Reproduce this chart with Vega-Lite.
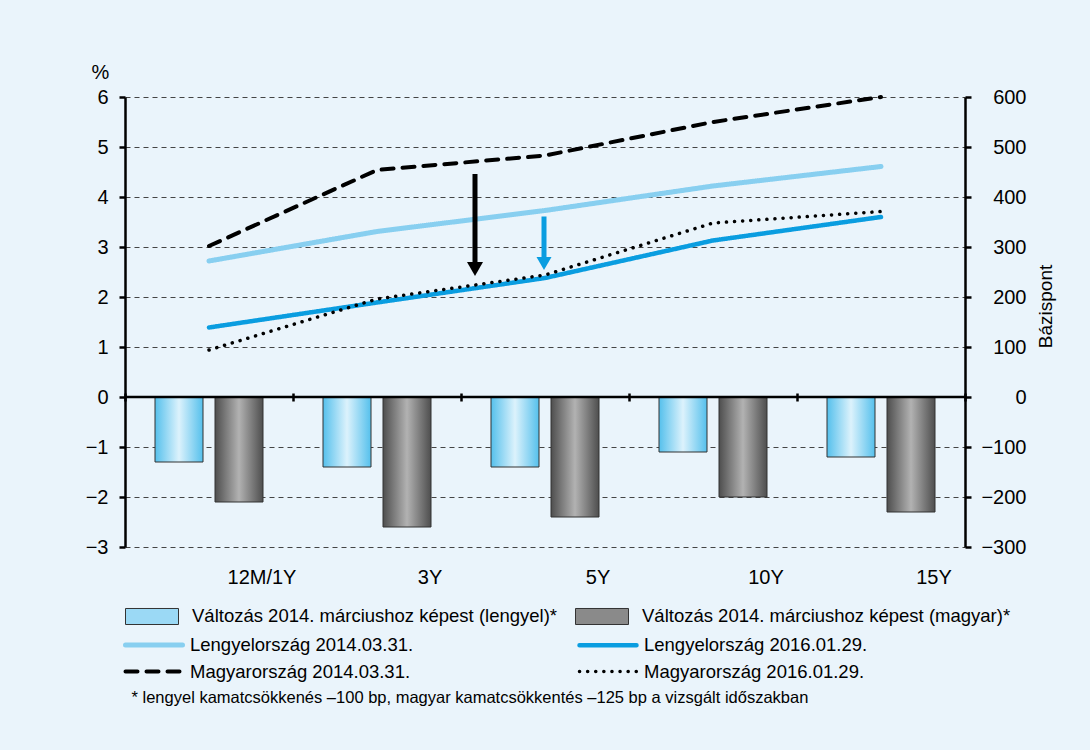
{
  "$schema": "https://vega.github.io/schema/vega-lite/v6.json",
  "width": 840,
  "height": 450,
  "autosize": {"type": "none"},
  "padding": {"left": 125, "top": 97, "right": 125, "bottom": 203},
  "background": "#eaf4fb",
  "config": {
    "view": {"stroke": null},
    "font": "Liberation Sans",
    "axis": {
      "labelFont": "Liberation Sans",
      "labelColor": "#000",
      "labelFontSize": 20,
      "titleFont": "Liberation Sans",
      "titleFontSize": 20,
      "titleFontWeight": "normal",
      "titleColor": "#000",
      "domainColor": "#000",
      "tickColor": "#000"
    },
    "legend": {
      "labelFont": "Liberation Sans",
      "labelFontSize": 18.5,
      "labelColor": "#000",
      "padding": 0
    }
  },
  "datasets": {
    "valtozas": [
      {"futamido": "12M/1Y", "sorozat": "Változás 2014. márciushoz képest (lengyel)*", "bp": -130},
      {"futamido": "12M/1Y", "sorozat": "Változás 2014. márciushoz képest (magyar)*", "bp": -210},
      {"futamido": "3Y", "sorozat": "Változás 2014. márciushoz képest (lengyel)*", "bp": -140},
      {"futamido": "3Y", "sorozat": "Változás 2014. márciushoz képest (magyar)*", "bp": -260},
      {"futamido": "5Y", "sorozat": "Változás 2014. márciushoz képest (lengyel)*", "bp": -140},
      {"futamido": "5Y", "sorozat": "Változás 2014. márciushoz képest (magyar)*", "bp": -240},
      {"futamido": "10Y", "sorozat": "Változás 2014. márciushoz képest (lengyel)*", "bp": -110},
      {"futamido": "10Y", "sorozat": "Változás 2014. márciushoz képest (magyar)*", "bp": -200},
      {"futamido": "15Y", "sorozat": "Változás 2014. márciushoz képest (lengyel)*", "bp": -120},
      {"futamido": "15Y", "sorozat": "Változás 2014. márciushoz képest (magyar)*", "bp": -230}
    ],
    "hozamgorbek": [
      {"futamido": "12M/1Y", "gorbe": "Lengyelország 2014.03.31.", "hozam": 2.72},
      {"futamido": "3Y", "gorbe": "Lengyelország 2014.03.31.", "hozam": 3.31},
      {"futamido": "5Y", "gorbe": "Lengyelország 2014.03.31.", "hozam": 3.73},
      {"futamido": "10Y", "gorbe": "Lengyelország 2014.03.31.", "hozam": 4.22},
      {"futamido": "15Y", "gorbe": "Lengyelország 2014.03.31.", "hozam": 4.61},
      {"futamido": "12M/1Y", "gorbe": "Lengyelország 2016.01.29.", "hozam": 1.39},
      {"futamido": "3Y", "gorbe": "Lengyelország 2016.01.29.", "hozam": 1.89},
      {"futamido": "5Y", "gorbe": "Lengyelország 2016.01.29.", "hozam": 2.38},
      {"futamido": "10Y", "gorbe": "Lengyelország 2016.01.29.", "hozam": 3.13},
      {"futamido": "15Y", "gorbe": "Lengyelország 2016.01.29.", "hozam": 3.6},
      {"futamido": "12M/1Y", "gorbe": "Magyarország 2014.03.31.", "hozam": 3.02},
      {"futamido": "3Y", "gorbe": "Magyarország 2014.03.31.", "hozam": 4.54},
      {"futamido": "5Y", "gorbe": "Magyarország 2014.03.31.", "hozam": 4.83},
      {"futamido": "10Y", "gorbe": "Magyarország 2014.03.31.", "hozam": 5.5},
      {"futamido": "15Y", "gorbe": "Magyarország 2014.03.31.", "hozam": 6.0},
      {"futamido": "12M/1Y", "gorbe": "Magyarország 2016.01.29.", "hozam": 0.94},
      {"futamido": "3Y", "gorbe": "Magyarország 2016.01.29.", "hozam": 1.96},
      {"futamido": "5Y", "gorbe": "Magyarország 2016.01.29.", "hozam": 2.44},
      {"futamido": "10Y", "gorbe": "Magyarország 2016.01.29.", "hozam": 3.48},
      {"futamido": "15Y", "gorbe": "Magyarország 2016.01.29.", "hozam": 3.71}
    ]
  },
  "layer": [
    {
      "data": {"name": "valtozas"},
      "mark": {"type": "bar", "stroke": "#333333", "strokeWidth": 1},
      "encoding": {
        "x": {
          "field": "futamido",
          "type": "nominal",
          "sort": ["12M/1Y", "3Y", "5Y", "10Y", "15Y"],
          "scale": {"domain": ["12M/1Y", "3Y", "5Y", "10Y", "15Y"], "paddingInner": 0, "paddingOuter": 0},
          "axis": {
            "orient": "bottom",
            "domain": false,
            "ticks": false,
            "labelAngle": 0,
            "labelOffset": 53,
            "labelPadding": 20,
            "title": "* lengyel kamatcsökkenés –100 bp, magyar kamatcsökkentés –125 bp a vizsgált időszakban",
            "titleFontSize": 16.5,
            "titleX": 6,
            "titleY": 150,
            "titleAlign": "left",
            "titleAnchor": "start",
            "titleBaseline": "middle"
          }
        },
        "xOffset": {
          "field": "sorozat",
          "type": "nominal",
          "sort": ["Változás 2014. márciushoz képest (lengyel)*", "Változás 2014. márciushoz képest (magyar)*"],
          "scale": {"paddingInner": 0.2, "paddingOuter": 0.5}
        },
        "y": {
          "field": "bp",
          "type": "quantitative",
          "scale": {"domain": [-300, 600], "nice": false, "zero": false},
          "axis": {
            "orient": "right",
            "values": [-300, -200, -100, 0, 100, 200, 300, 400, 500, 600],
            "grid": false,
            "domainWidth": 2.5,
            "tickWidth": 2.5,
            "tickSize": 6,
            "labelAlign": "right",
            "labelPadding": 55,
            "title": "Bázispont",
            "titleAngle": -90,
            "titleX": 80,
            "titleY": 209,
            "titleAlign": "center",
            "titleBaseline": "middle",
            "titleFontSize": 19
          }
        },
        "fill": {
          "condition": [
            {
              "test": "datum.sorozat === 'Változás 2014. márciushoz képest (lengyel)*'",
              "value": {"gradient": "linear", "x1": 0, "y1": 0, "x2": 1, "y2": 0, "stops": [
                {"offset": 0, "color": "#55c0ec"},
                {"offset": 0.5, "color": "#dcf2fc"},
                {"offset": 1, "color": "#55c0ec"}
              ]}
            },
            {
              "test": "datum.sorozat === 'Változás 2014. márciushoz képest (magyar)*'",
              "value": {"gradient": "linear", "x1": 0, "y1": 0, "x2": 1, "y2": 0, "stops": [
                {"offset": 0, "color": "#4e4e4e"},
                {"offset": 0.5, "color": "#b2b2b2"},
                {"offset": 1, "color": "#4e4e4e"}
              ]}
            }
          ],
          "field": "sorozat",
          "type": "nominal",
          "scale": {
            "domain": ["Változás 2014. márciushoz képest (lengyel)*", "Változás 2014. márciushoz képest (magyar)*"],
            "range": ["#9bd9f5", "#8a8a8a"]
          },
          "legend": {
            "orient": "none",
            "legendX": 0,
            "legendY": 492,
            "direction": "horizontal",
            "columns": 2,
            "title": null,
            "symbolType": "M-1,-0.302H1V0.302H-1Z",
            "symbolSize": 2809,
            "symbolStrokeColor": "#333333",
            "symbolStrokeWidth": 1,
            "labelOffset": 13,
            "columnPadding": 15,
            "labelLimit": 600,
            "encode": {
              "symbols": {
                "update": {
                  "fill": {"signal": "datum.value === 'Változás 2014. márciushoz képest (lengyel)*' ? {gradient: 'linear', x1: 0, y1: 0, x2: 1, y2: 0, stops: [{offset: 0, color: '#55c0ec'}, {offset: 0.5, color: '#dcf2fc'}, {offset: 1, color: '#55c0ec'}]} : {gradient: 'linear', x1: 0, y1: 0, x2: 1, y2: 0, stops: [{offset: 0, color: '#4e4e4e'}, {offset: 0.5, color: '#b2b2b2'}, {offset: 1, color: '#4e4e4e'}]}"},
                  "stroke": {"value": "#333333"},
                  "strokeWidth": {"value": 1}
                }
              }
            }
          }
        }
      }
    },
    {
      "layer": [
        {
          "data": {"name": "hozamgorbek"},
          "mark": {"type": "line", "strokeCap": "round", "strokeJoin": "round"},
          "encoding": {
            "x": {
              "field": "futamido",
              "type": "nominal",
              "sort": ["12M/1Y", "3Y", "5Y", "10Y", "15Y"],
              "axis": {
                "orient": "bottom",
                "offset": -154,
                "title": null,
                "domain": false,
                "labels": false,
                "ticks": true,
                "tickBand": "extent",
                "tickSize": 8,
                "tickWidth": 2.5
              }
            },
            "y": {
              "field": "hozam",
              "type": "quantitative",
              "scale": {"domain": [-3, 6], "nice": false, "zero": false},
              "axis": {
                "orient": "left",
                "values": [-3, -2, -1, 0, 1, 2, 3, 4, 5, 6],
                "grid": true,
                "gridColor": "#444444",
                "gridDash": [5, 4],
                "gridWidth": 1,
                "gridOpacity": 1,
                "domainWidth": 2.5,
                "tickWidth": 2.5,
                "tickSize": 6,
                "labelPadding": 11,
                "title": "%",
                "titleAngle": 0,
                "titleX": -25,
                "titleY": -25,
                "titleAlign": "center",
                "titleBaseline": "middle"
              }
            },
            "stroke": {
              "field": "gorbe",
              "type": "nominal",
              "scale": {
                "domain": ["Lengyelország 2014.03.31.", "Lengyelország 2016.01.29.", "Magyarország 2014.03.31.", "Magyarország 2016.01.29."],
                "range": ["#88cff0", "#0a9de0", "#000000", "#000000"]
              },
              "legend": {
                "orient": "none",
                "legendX": 17,
                "legendY": 536,
                "direction": "horizontal",
                "columns": 2,
                "title": null,
                "symbolType": "M-3,0H3",
                "symbolSize": 361,
                "labelOffset": 24,
                "columnPadding": 156,
                "rowPadding": 5,
                "labelLimit": 600,
                "encode": {
                  "symbols": {"update": {"strokeCap": {"value": "round"}, "fill": {"value": "transparent"}}}
                }
              }
            },
            "strokeDash": {
              "field": "gorbe",
              "type": "nominal",
              "scale": {
                "domain": ["Lengyelország 2014.03.31.", "Lengyelország 2016.01.29.", "Magyarország 2014.03.31.", "Magyarország 2016.01.29."],
                "range": [[1, 0], [1, 0], [12, 9], [0.1, 8]]
              }
            },
            "strokeWidth": {
              "field": "gorbe",
              "type": "nominal",
              "scale": {
                "domain": ["Lengyelország 2014.03.31.", "Lengyelország 2016.01.29.", "Magyarország 2014.03.31.", "Magyarország 2016.01.29."],
                "range": [5, 3.5, 3.5, 4.5]
              }
            }
          }
        },
        {
          "data": {"values": [{"szint": 0}]},
          "mark": {"type": "rule", "stroke": "#000000", "strokeWidth": 2.5},
          "encoding": {"y": {"field": "szint", "type": "quantitative"}}
        },
        {
          "data": {"values": [{"futamido": "5Y", "felso": 4.46, "also": 2.7}]},
          "mark": {"type": "rule", "stroke": "#000000", "strokeWidth": 5, "xOffset": -70},
          "encoding": {
            "x": {"field": "futamido", "type": "nominal", "sort": ["12M/1Y", "3Y", "5Y", "10Y", "15Y"]},
            "y": {"field": "felso", "type": "quantitative"},
            "y2": {"field": "also"}
          }
        },
        {
          "data": {"values": [{"futamido": "5Y", "csucs": 2.56}]},
          "mark": {"type": "point", "shape": "triangle-down", "size": 256, "filled": true, "fill": "#000000", "opacity": 1, "strokeWidth": 0, "xOffset": -70},
          "encoding": {
            "x": {"field": "futamido", "type": "nominal", "sort": ["12M/1Y", "3Y", "5Y", "10Y", "15Y"]},
            "y": {"field": "csucs", "type": "quantitative"}
          }
        },
        {
          "data": {"values": [{"futamido": "5Y", "felso": 3.61, "also": 2.8}]},
          "mark": {"type": "rule", "stroke": "#0a9de0", "strokeWidth": 5, "xOffset": -1},
          "encoding": {
            "x": {"field": "futamido", "type": "nominal", "sort": ["12M/1Y", "3Y", "5Y", "10Y", "15Y"]},
            "y": {"field": "felso", "type": "quantitative"},
            "y2": {"field": "also"}
          }
        },
        {
          "data": {"values": [{"futamido": "5Y", "csucs": 2.67}]},
          "mark": {"type": "point", "shape": "triangle-down", "size": 225, "filled": true, "fill": "#0a9de0", "opacity": 1, "strokeWidth": 0, "xOffset": -1},
          "encoding": {
            "x": {"field": "futamido", "type": "nominal", "sort": ["12M/1Y", "3Y", "5Y", "10Y", "15Y"]},
            "y": {"field": "csucs", "type": "quantitative"}
          }
        }
      ]
    }
  ],
  "resolve": {"scale": {"y": "independent"}, "axis": {"x": "independent"}}
}
